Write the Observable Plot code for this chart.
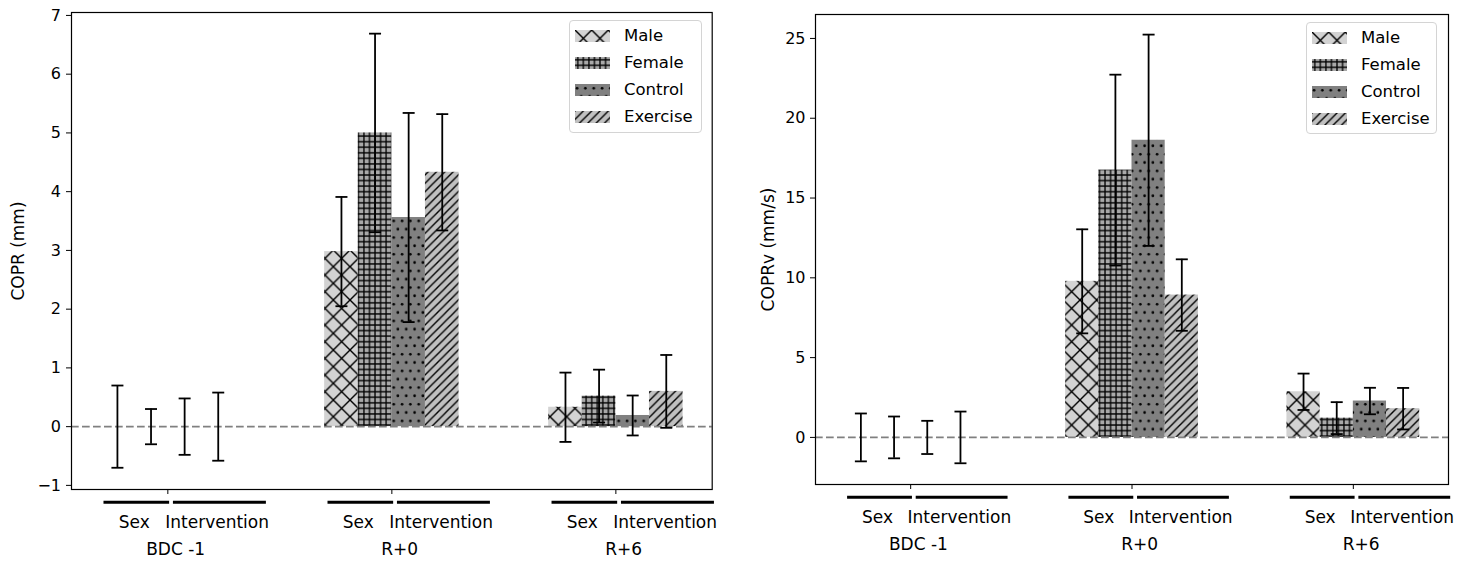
<!DOCTYPE html>
<html>
<head>
<meta charset="utf-8">
<script src="https://cdn.jsdelivr.net/npm/d3@7"></script>
<script src="https://cdn.jsdelivr.net/npm/@observablehq/plot@0.6"></script>
<style>
html, body { margin: 0; padding: 0; background: #fff; }
#fig { position: relative; width: 1461px; height: 561px; font-family: "DejaVu Sans", sans-serif; background: #fff; }
.panel { position: absolute; top: 0; }
.leg { position: absolute; background: rgba(255,255,255,0.85); border: 1px solid #d4d4d4; border-radius: 4px; box-sizing: border-box; }
.leg .lg-swatches { font-family: "DejaVu Sans", sans-serif; font-size: 16.5px; margin: 0; color: #000; }
.leg .lg-swatch { height: 27px; padding: 0; display: flex; align-items: center; }
.leg .lg-swatch > svg { margin-right: 14px; }
</style>
</head>
<body>
<svg width="0" height="0" style="position:absolute">
  <defs>
    <pattern id="h-male" patternUnits="userSpaceOnUse" width="16.667" height="16.667">
      <rect width="16.667" height="16.667" fill="#d3d3d3"/>
      <path d="M0,0L16.667,16.667M0,16.667L16.667,0M-1,15.667L1,17.667M15.667,-1L17.667,1M-1,1L1,-1M15.667,17.667L17.667,15.667" stroke="#000" stroke-width="1.4" fill="none"/>
    </pattern>
    <pattern id="h-female" patternUnits="userSpaceOnUse" width="5.556" height="5.556">
      <rect width="5.556" height="5.556" fill="#a9a9a9"/>
      <path d="M0,2.778H5.556M2.778,0V5.556" stroke="#000" stroke-width="1.3" fill="none"/>
    </pattern>
    <pattern id="h-control" patternUnits="userSpaceOnUse" width="8.333" height="16.667">
      <rect width="8.333" height="16.667" fill="#808080"/>
      <circle cx="2.08" cy="4.17" r="1.35" fill="#000"/>
      <circle cx="6.25" cy="12.5" r="1.35" fill="#000"/>
    </pattern>
    <pattern id="h-exercise" patternUnits="userSpaceOnUse" width="8.333" height="8.333">
      <rect width="8.333" height="8.333" fill="#c0c0c0"/>
      <path d="M0,8.333L8.333,0M-1,1L1,-1M7.333,9.333L9.333,7.333" stroke="#000" stroke-width="1.4" fill="none"/>
    </pattern>
  </defs>
</svg>
<div id="fig"></div>
<script>
// ---------- data ----------
const groups = ["BDC -1", "R+0", "R+6"];
const series = ["Male", "Female", "Control", "Exercise"];
const subLabels = ["Sex", "Intervention"];

// COPR (mm): means and error half-widths per group
const coprMale        = [0, 2.98, 0.33];
const coprMaleErr     = [0.70, 0.93, 0.59];
const coprFemale      = [0, 5.00, 0.52];
const coprFemaleErr   = [0.30, 1.69, 0.45];
const coprControl     = [0, 3.56, 0.19];
const coprControlErr  = [0.48, 1.78, 0.34];
const coprExercise    = [0, 4.33, 0.60];
const coprExerciseErr = [0.58, 0.99, 0.62];

// COPRv (mm/s)
const coprvMale        = [0, 9.78, 2.86];
const coprvMaleErr     = [1.50, 3.26, 1.14];
const coprvFemale      = [0, 16.75, 1.21];
const coprvFemaleErr   = [1.31, 5.98, 1.00];
const coprvControl     = [0, 18.62, 2.28];
const coprvControlErr  = [1.04, 6.62, 0.83];
const coprvExercise    = [0, 8.92, 1.80];
const coprvExerciseErr = [1.62, 2.24, 1.30];

const yTicksCOPR  = [-1, 0, 1, 2, 3, 4, 5, 6, 7];
const yTicksCOPRv = [0, 5, 10, 15, 20, 25];

// ---------- styles ----------
const seriesFill = ["url(#h-male)", "url(#h-female)", "url(#h-control)", "url(#h-exercise)"];
const barW = 0.15;

function buildRows(means, errs) {
  const out = [];
  groups.forEach((g, gi) => series.forEach((s, si) => {
    const v = means[si][gi], e = errs[si][gi];
    out.push({group: g, series: s, pos: gi + (si - 1.5) * barW, value: v, lo: v - e, hi: v + e});
  }));
  return out;
}

const capSymbol = {
  draw(ctx, size) {
    const r = Math.sqrt(size / Math.PI);
    ctx.moveTo(-r, 0);
    ctx.lineTo(r, 0);
  }
};

function panel(o) {
  const data = buildRows(o.means, o.errs);
  const brackets = groups.flatMap((g, gi) => [
    {x1: gi - 0.285, x2: gi + 0.008},
    {x1: gi + 0.025, x2: gi + 0.44}
  ]);
  const subs = groups.flatMap((g, gi) => [
    {x: gi - 0.15, text: subLabels[0]},
    {x: gi + 0.22, text: subLabels[1]}
  ]);
  const glabels = groups.map((g, gi) => ({x: gi + 0.035, text: g}));
  return Plot.plot({
    width: o.width, height: 561,
    marginLeft: o.ml, marginRight: o.mr, marginTop: o.mt, marginBottom: o.mb,
    style: {fontFamily: "DejaVu Sans, sans-serif", fontSize: "16px", color: "#000", background: "#fff", overflow: "visible"},
    x: {domain: [-0.43, 2.43], axis: null},
    y: {domain: o.yDomain, axis: null},
    color: {type: "ordinal", domain: series, range: seriesFill},
    marks: [
      Plot.rectY(data, {x1: d => d.pos - barW / 2, x2: d => d.pos + barW / 2, y1: 0, y2: "value", fill: "series"}),
      Plot.ruleY([0], {stroke: "#808080", strokeWidth: 1.6, strokeDasharray: "7.7,3.3"}),
      Plot.ruleX(data, {x: "pos", y1: "lo", y2: "hi", stroke: "#000", strokeWidth: 1.8}),
      Plot.dot(data, {x: "pos", y: "lo", symbol: capSymbol, r: 6, stroke: "#000", strokeWidth: 1.8}),
      Plot.dot(data, {x: "pos", y: "hi", symbol: capSymbol, r: 6, stroke: "#000", strokeWidth: 1.8}),
      Plot.frame({stroke: "#000", strokeWidth: 1.2}),
      Plot.axisY({ticks: o.yTicks, tickSize: 5, tickPadding: o.tp, label: null, fontSize: 16}),
      Plot.text([o.yLabel], {text: d => d, frameAnchor: "left", rotate: -90, dx: o.ldx, lineAnchor: "middle", textAnchor: "middle", fontSize: 17}),
      Plot.axisX({ticks: groups.map((g, i) => i), tickSize: 5, tickFormat: () => "", label: null}),
      Plot.ruleY(brackets, {y: () => o.yDomain[0], x1: "x1", x2: "x2", dy: 12.7, stroke: "#000", strokeWidth: 3}),
      Plot.text(subs, {x: "x", text: "text", frameAnchor: "bottom", dy: 33, lineAnchor: "middle", fontSize: 17}),
      Plot.text(glabels, {x: "x", text: "text", frameAnchor: "bottom", dy: 60, lineAnchor: "middle", fontSize: 17})
    ]
  });
}

const fig = document.getElementById("fig");

const p1 = panel({
  means: [coprMale, coprFemale, coprControl, coprExercise],
  errs: [coprMaleErr, coprFemaleErr, coprControlErr, coprExerciseErr],
  yDomain: [-1.07, 7.05], yTicks: yTicksCOPR, yLabel: "COPR (mm)",
  width: 730, ml: 71, mr: 18.3, mt: 12, mb: 72, tp: 5.5, ldx: -53
});
p1.classList.add("panel");
p1.style.left = "0px";
fig.appendChild(p1);

const p2 = panel({
  means: [coprvMale, coprvFemale, coprvControl, coprvExercise],
  errs: [coprvMaleErr, coprvFemaleErr, coprvControlErr, coprvExerciseErr],
  yDomain: [-2.95, 26.5], yTicks: yTicksCOPRv, yLabel: "COPRv (mm/s)",
  width: 731, ml: 85, mr: 13, mt: 14, mb: 77, tp: 5, ldx: -47
});
p2.classList.add("panel");
p2.style.left = "730px";
fig.appendChild(p2);

function addLegend(left, top, width, height) {
  const box = document.createElement("div");
  box.className = "leg";
  Object.assign(box.style, {left: left + "px", top: top + "px", width: width + "px", height: height + "px", padding: "1px 0 0 5px"});
  const lg = Plot.legend({
    color: {type: "ordinal", domain: series, range: seriesFill},
    swatchWidth: 35, swatchHeight: 12, columns: 1, className: "lg"
  });
  box.appendChild(lg);
  fig.appendChild(box);
}
addLegend(569, 20, 133, 113);
addLegend(1306, 22, 131, 112);
</script>
</body>
</html>
